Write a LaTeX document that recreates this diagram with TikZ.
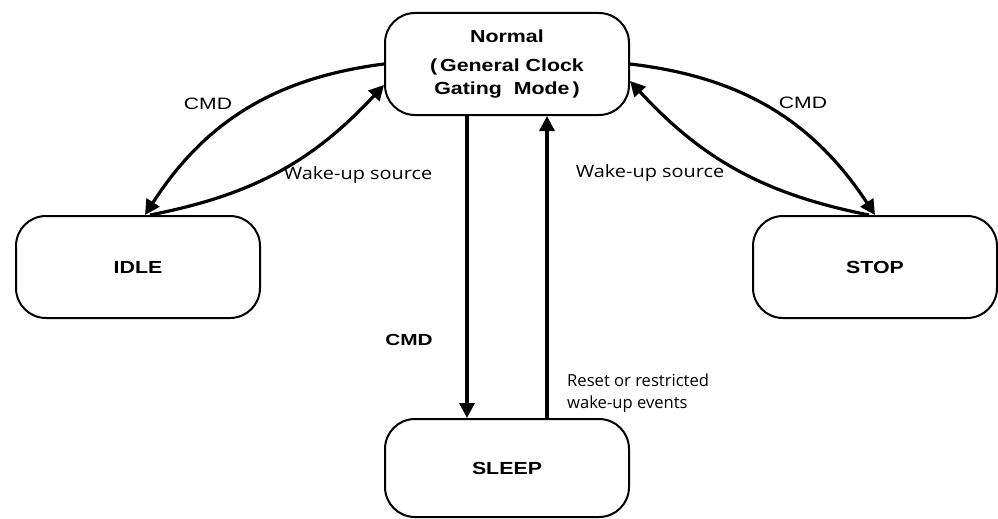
\documentclass[tikz,border=0pt]{standalone}
\usepackage{fontspec}
\usetikzlibrary{arrows.meta}
\newfontfamily\boxf{Liberation Sans}[FakeStretch=1.22]
\newfontfamily\cmdf{Liberation Sans}[FakeStretch=1.28]
\newfontfamily\cmdbf{Liberation Sans}[FakeStretch=1.3]
\newfontfamily\wakef{Open Sans}[FakeStretch=1.17]
\newfontfamily\resetf{Open Sans}
\begin{document}
\begin{tikzpicture}[x=1pt,y=-1pt,
  statebox/.style={draw, line width=2pt, rounded corners=30pt, minimum width=244pt, minimum height=102pt, align=center, inner sep=0pt, font=\boxf\bfseries\fontsize{17.5}{23}\selectfont},
  arr/.style={line width=3.2pt, -{Triangle[length=15pt,width=15pt]}},
  cmdlbl/.style={font=\cmdf\fontsize{16.5}{18}\selectfont, inner sep=0pt},
  wakelbl/.style={font=\wakef\fontsize{17}{21}\selectfont, inner sep=0pt},
  resetlbl/.style={font=\resetf\fontsize{16.6}{21.5}\selectfont, inner sep=0pt, align=left}]
\useasboundingbox (0,0) rectangle (998,519);
\node[statebox] (normal) at (507,64) {Normal\\[6pt](\,General Clock\\Gating\ \ Mode\,)};
\node[statebox] (idle) at (138,267) {IDLE};
\node[statebox] (stop) at (875,267) {STOP};
\node[statebox, minimum height=98pt] (sleep) at (507,468) {SLEEP};
\draw[arr] (normal.west) to[bend right=25] ([xshift=7pt]idle.north);
\draw[arr] ([xshift=12pt]idle.north) to[bend right=18] ([yshift=-21pt]normal.west);
\draw[arr] (normal.east) to[bend left=25] (stop.north);
\draw[arr] ([xshift=-6pt]stop.north) to[bend left=18] ([yshift=-17pt]normal.east);
\draw[arr] ([xshift=-40pt]normal.south) -- ([xshift=-40pt]sleep.north);
\draw[arr] ([xshift=40pt]sleep.north) -- ([xshift=40pt]normal.south);
\node[cmdlbl] (cmdl) at (208,104) {CMD};
\node[cmdlbl] (cmdr) at (803,103) {CMD};
\node[cmdlbl, font=\cmdbf\bfseries\fontsize{16}{18}\selectfont] (cmdm) at (409,340) {CMD};
\node[wakelbl] (wakel) at (358,175) {Wake-up source};
\node[wakelbl] (waker) at (650,173) {Wake-up source};
\node[resetlbl, anchor=west] (reset) at (567,393) {Reset or restricted\\wake-up events};
\end{tikzpicture}
\end{document}
